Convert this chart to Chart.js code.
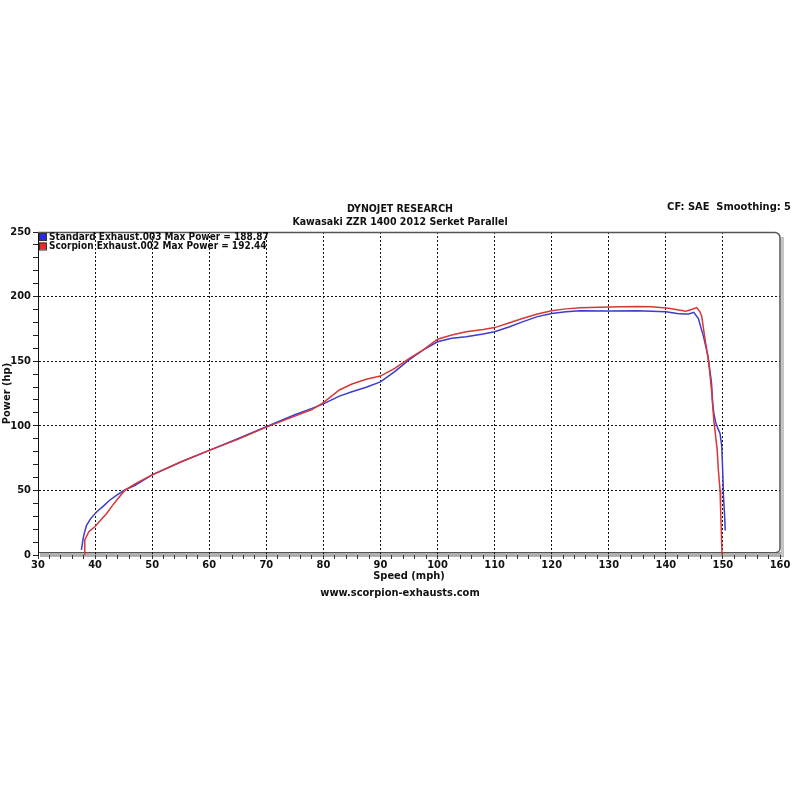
<!DOCTYPE html>
<html>
<head>
<meta charset="utf-8">
<script src="https://cdn.jsdelivr.net/npm/chart.js@4/dist/chart.umd.min.js"></script>
<style>
  html, body { margin: 0; padding: 0; background: #fff; }
  canvas { display: block; }
</style>
</head>
<body>
<canvas id="chart" width="800" height="800"></canvas>
<script>
// text
const titleLines = ["DYNOJET RESEARCH", "Kawasaki ZZR 1400 2012 Serket Parallel"];
const cornerNote = "CF: SAE  Smoothing: 5";
const footerText = "www.scorpion-exhausts.com";
const seriesNames = ["Standard Exhaust.003 Max Power = 188.87", "Scorpion Exhaust.002 Max Power = 192.44"];

// axis labels (major ticks)
const speedLabels = [30, 40, 50, 60, 70, 80, 90, 100, 110, 120, 130, 140, 150, 160];
const powerLabels = [0, 50, 100, 150, 200, 250];

// Standard exhaust run (blue)
const stdSpeed = [37.6, 38.0, 38.5, 39.2, 40.3, 41.5, 42.6, 44.0, 45.2, 47, 50, 55, 60, 65, 70, 75, 78, 80,
  82.8, 85, 87.5, 90, 92.5, 95, 97.5, 100, 102.5, 105, 108, 110, 112.5, 115, 117.5, 120, 122.5, 125, 130,
  135, 140, 142, 143.2, 144.0, 144.9, 145.7, 146.6, 147.4, 148.0, 148.2, 148.4, 148.7, 149.2, 149.5, 149.8,
  150.0, 150.1, 150.3, 150.4];
const stdPower = [4, 15, 23, 28, 33.5, 38, 42.6, 47, 50.3, 54, 62, 72, 81, 90, 99.3, 108.5, 113.5, 117,
  123, 126.4, 129.8, 134, 141.9, 151, 158.7, 165, 167.7, 169, 171, 172.8, 176.5, 180.6, 184.5, 187, 188.3, 189, 188.9,
  189, 188.3, 187, 186.5, 186.5, 187.8, 183, 169, 153.5, 133, 118, 110, 103, 97, 94, 84,
  60, 45, 30, 19];

// Scorpion exhaust run (red)
const scoSpeed = [38.1, 38.2, 38.9, 40.0, 41.0, 42.0, 43.0, 43.8, 45.2, 47, 50, 55, 60, 65, 70, 75, 78, 80,
  82.8, 85, 87.5, 90, 92.5, 95, 97.5, 100, 102.5, 105, 108, 110, 112.5, 115, 117.5, 120, 122.5, 125, 130,
  135, 137.5, 140, 140.5, 142.5, 143.5, 144.5, 145.4, 146.0, 146.3, 146.9, 147.5, 148.0, 148.4, 149.0, 149.2,
  149.5, 149.6, 149.8, 149.85];
const scoPower = [0, 11.6, 18, 22, 27, 32, 38, 42.6, 50, 55, 62, 72, 81, 89.5, 99, 107.5, 112.5, 118,
  127.7, 132.3, 136, 138.5, 144.5, 152, 158.7, 167, 170.3, 172.8, 174.5, 176, 179.5, 183.2, 186.5, 189, 190.5, 191.4, 192,
  192.4, 192.2, 191.2, 191, 189.5, 188.6, 190, 191.5, 188, 184.5, 166, 149.6, 127.7, 104.5, 81, 65.8,
  50, 35, 6.4, 0];

const FONT = "'DejaVu Sans Condensed', 'DejaVu Sans', sans-serif";

function pairs(xs, ys) {
  return xs.map((x, i) => ({ x: x, y: ys[i] }));
}

const dynoDecor = {
  id: 'dynoDecor',
  beforeDraw(chart) {
    const { ctx, chartArea: a } = chart;
    ctx.save();
    ctx.fillStyle = '#fff';
    ctx.fillRect(0, 0, chart.width, chart.height);
    // grey 3d band under plot and shadow on the right
    ctx.fillStyle = '#b0b0b0';
    ctx.fillRect(a.left + 2, a.bottom - 3, a.right - a.left + 2, 5);
    ctx.fillStyle = '#c4c4c4';
    ctx.fillRect(a.right + 1, a.top + 5, 3, a.bottom - a.top - 4);
    ctx.strokeStyle = '#555';
    ctx.lineWidth = 1;
    ctx.beginPath();
    ctx.moveTo(a.left, a.bottom - 2.5);
    ctx.lineTo(a.right - 4, a.bottom - 2.5);
    ctx.stroke();
    ctx.restore();
  },
  afterDraw(chart) {
    const { ctx, chartArea: a } = chart;
    ctx.save();
    // frame top and right with rounded corner
    ctx.strokeStyle = '#555';
    ctx.lineWidth = 1.5;
    ctx.beginPath();
    ctx.moveTo(a.left, a.top + 0.5);
    ctx.lineTo(a.right - 5, a.top + 0.5);
    ctx.arcTo(a.right, a.top + 0.5, a.right, a.top + 6, 5);
    ctx.lineTo(a.right, a.bottom - 6);
    ctx.arcTo(a.right, a.bottom - 2.5, a.right - 4, a.bottom - 2.5, 4);
    ctx.stroke();

    // titles
    ctx.fillStyle = '#111';
    ctx.font = 'bold 10.5px ' + FONT;
    ctx.textAlign = 'center';
    ctx.textBaseline = 'middle';
    ctx.fillText(titleLines[0], 400, 209);
    ctx.fillText(titleLines[1], 400, 222);
    ctx.textAlign = 'right';
    ctx.font = 'bold 11px ' + FONT;
    ctx.fillText(cornerNote, 791, 207);
    ctx.textAlign = 'center';
    ctx.fillText(footerText, 400, 593);

    // legend inside plot
    ctx.font = 'bold 10px ' + FONT;
    ctx.textAlign = 'left';
    chart.data.datasets.forEach((ds, i) => {
      const y = a.top + 5 + i * 9.5;
      ctx.fillStyle = ds.legendFill;
      ctx.fillRect(a.left + 1, y - 4, 7, 7);
      ctx.strokeStyle = '#333';
      ctx.lineWidth = 1;
      ctx.strokeRect(a.left + 1.5, y - 3.5, 7, 7);
      ctx.fillStyle = '#111';
      ctx.fillText(ds.label, a.left + 11, y);
    });
    ctx.restore();
  }
};

const ctx = document.getElementById('chart').getContext('2d');
new Chart(ctx, {
  type: 'line',
  data: {
    datasets: [
      {
        label: seriesNames[0],
        data: pairs(stdSpeed, stdPower),
        borderColor: 'rgb(60, 60, 205)',
        legendFill: 'rgb(40, 40, 240)',
        borderWidth: 1.5,
        pointRadius: 0,
        tension: 0,
        order: 1
      },
      {
        label: seriesNames[1],
        data: pairs(scoSpeed, scoPower),
        borderColor: 'rgb(215, 55, 55)',
        legendFill: 'rgb(240, 40, 40)',
        borderWidth: 1.5,
        pointRadius: 0,
        tension: 0,
        order: 0
      }
    ]
  },
  options: {
    responsive: false,
    animation: false,
    layout: { padding: { left: 0, top: 232, right: 20, bottom: 217 } },
    plugins: {
      legend: { display: false },
      tooltip: { enabled: false }
    },
    scales: {
      x: {
        type: 'linear',
        min: 30,
        max: 160,
        afterFit: (s) => { s.height = 28; },
        ticks: {
          stepSize: 2,
          autoSkip: false,
          maxRotation: 0,
          padding: 0,
          color: '#111',
          font: { family: FONT, size: 11, weight: 'bold' },
          callback: (v) => speedLabels.includes(v) ? String(v) : ''
        },
        grid: {
          color: (c) => (c.tick && speedLabels.includes(c.tick.value) && c.tick.value !== 30 && c.tick.value !== 160) ? '#111' : 'rgba(0,0,0,0)',
          tickColor: '#333',
          tickLength: 4,
          tickBorderDash: []
        },
        border: { display: false, dash: [2, 2] },
        title: {
          display: true,
          text: 'Speed (mph)',
          color: '#111',
          padding: 0,
          font: { family: FONT, size: 11, weight: 'bold' }
        }
      },
      y: {
        min: 0,
        max: 250,
        afterFit: (s) => { s.width = 38; },
        ticks: {
          stepSize: 10,
          autoSkip: false,
          padding: 2,
          color: '#111',
          font: { family: FONT, size: 11, weight: 'bold' },
          callback: (v) => powerLabels.includes(v) ? String(v) : ''
        },
        grid: {
          color: (c) => (c.tick && powerLabels.includes(c.tick.value) && c.tick.value !== 0 && c.tick.value !== 250) ? '#111' : 'rgba(0,0,0,0)',
          tickColor: '#222',
          tickLength: 5,
          tickBorderDash: []
        },
        border: { display: true, color: '#111', width: 1, dash: [2, 2] },
        title: {
          display: true,
          text: 'Power (hp)',
          color: '#111',
          padding: 1,
          font: { family: FONT, size: 11, weight: 'bold' }
        }
      }
    }
  },
  plugins: [dynoDecor]
});
</script>
</body>
</html>
